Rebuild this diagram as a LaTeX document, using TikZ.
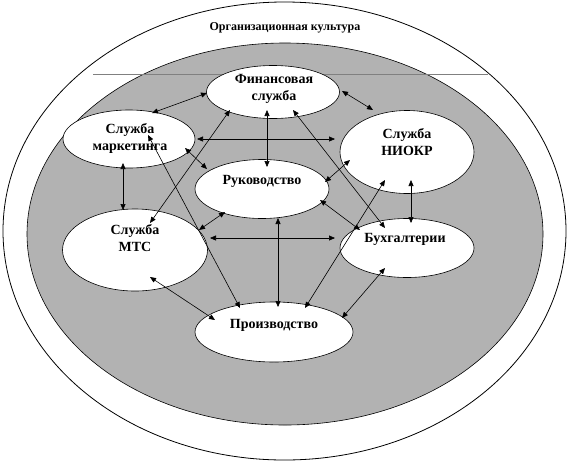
\documentclass[tikz,border=0pt]{standalone}
\usepackage{fontspec}
\setmainfont{Liberation Serif}
\usetikzlibrary{shapes.geometric,arrows.meta,calc}
\begin{document}
\begin{tikzpicture}[x=1pt,y=-1pt,
  unit/.style={ellipse,draw=black,line width=0.6pt,fill=white,inner sep=0pt},
  lbl/.style={font=\fontsize{14}{17}\selectfont\bfseries,align=center,inner sep=0pt},
  link/.style={line width=0.6pt,{Triangle[length=6pt,width=5pt]}-{Triangle[length=6pt,width=5pt]}}]
\useasboundingbox (0,0) rectangle (570,464);
% outer ellipse and gray area
\node[ellipse,draw=black,line width=0.8pt,minimum width=563pt,minimum height=458pt,inner sep=0pt] (culture) at (284.5,231) {};
\node[ellipse,draw=black,line width=0.6pt,fill=black!30,minimum width=516pt,minimum height=382pt,inner sep=0pt] (core) at (285,234) {};
\node[font=\fontsize{12}{14}\selectfont\bfseries,inner sep=0pt] (title) at (285,28) {Организационная культура};
\coordinate (hl) at (93,74);
\coordinate (hr) at (488,74);
\draw[black!50,line width=0.6pt] (hl) -- (hr);
% units
\node[unit,minimum width=133pt,minimum height=53pt] (fin) at (273,92) {};
\node[unit,minimum width=132pt,minimum height=58pt] (mark) at (129,139) {};
\node[unit,minimum width=134pt,minimum height=83pt] (niokr) at (407,152) {};
\node[unit,minimum width=134pt,minimum height=59pt] (ruk) at (262,189) {};
\node[unit,minimum width=145pt,minimum height=82pt] (mts) at (135,250) {};
\node[unit,minimum width=134pt,minimum height=59pt] (buh) at (407,248) {};
\node[unit,minimum width=158pt,minimum height=60pt] (pro) at (274,332) {};
% labels
\node[lbl] (tfin) at (274,89) {Финансовая\\служба};
\node[lbl] (tmark) at (130,138) {Служба\\маркетинга};
\node[lbl] (tniokr) at (407,142) {Служба\\НИОКР};
\node[lbl] (truk) at (262,181) {Руководство};
\node[lbl] (tmts) at (135,238) {Служба\\МТС};
\node[lbl] (tbuh) at (405,239) {Бухгалтерии};
\node[lbl] (tpro) at (274,325) {Производство};
% links
\draw[link] ($(mark)+(23,-26)$) -- ($(fin)+(-66,1)$);
\draw[link] ($(fin)+(-43,18)$) -- ($(mts)+(15,-27)$);
\draw[link] ($(mark)+(68,0)$) -- ($(niokr)+(-72,-13)$);
\draw[link] ($(mark)+(56,9)$) -- ($(ruk)+(-55,-20)$);
\draw[link] ($(fin)+(-6,18)$) -- ($(ruk)+(5,-22)$);
\draw[link] ($(mark)+(-6,24)$) -- ($(mts)+(-12,-40)$);
\draw[link] ($(mark)+(19,-4)$) -- ($(pro)+(-34,-24)$);
\draw[link] ($(ruk)+(-37,23)$) -- ($(mts)+(64,-20)$);
\draw[link] ($(mts)+(75,-12)$) -- ($(buh)+(-72,-10)$);
\draw[link] ($(ruk)+(16,29)$) -- ($(pro)+(4,-25)$);
\draw[link] ($(mts)+(15,27)$) -- ($(pro)+(-59,-12)$);
\draw[link] ($(fin)+(69,-1)$) -- ($(niokr)+(-34,-42)$);
\draw[link] ($(fin)+(20,18)$) -- ($(buh)+(-22,-20)$);
\draw[link] ($(ruk)+(63,-7)$) -- ($(niokr)+(-57,8)$);
\draw[link] ($(niokr)+(-22,28)$) -- ($(pro)+(31,-24)$);
\draw[link] ($(niokr)+(4,28)$) -- ($(buh)+(4,-25)$);
\draw[link] ($(ruk)+(58,11)$) -- ($(buh)+(-47,-18)$);
\draw[link] ($(buh)+(-22,20)$) -- ($(pro)+(68,-14)$);
\end{tikzpicture}
\end{document}
